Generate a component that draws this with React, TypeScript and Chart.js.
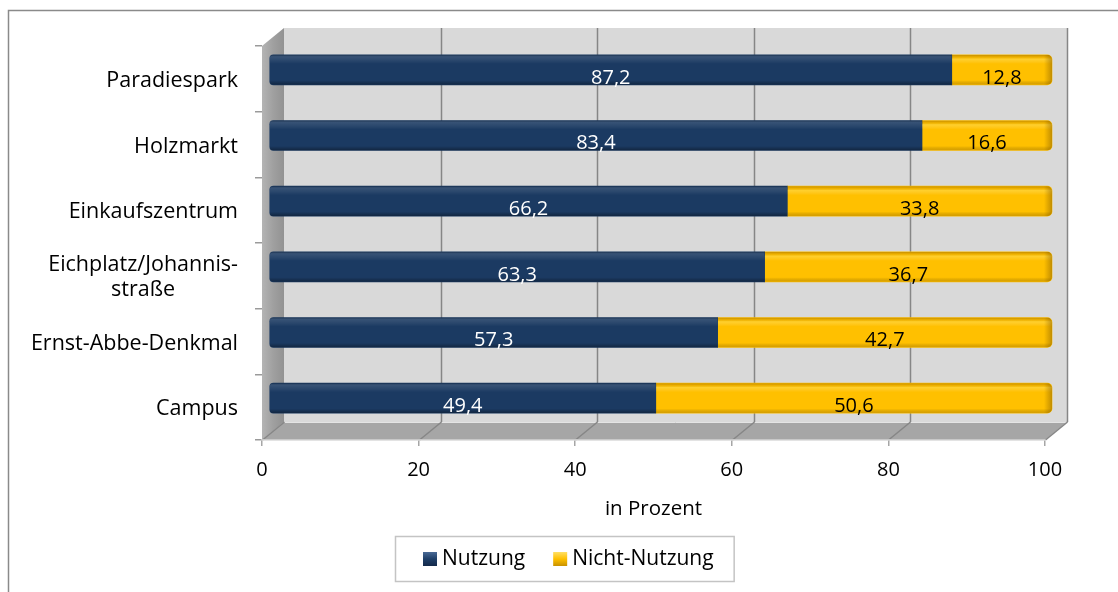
import { useEffect, useRef } from "react";
import { Chart, registerables } from "chart.js";

Chart.register(...registerables);

const categories: (string | string[])[] = [
  "Paradiespark",
  "Holzmarkt",
  "Einkaufszentrum",
  ["Eichplatz/Johannis-", "straße"],
  "Ernst-Abbe-Denkmal",
  "Campus",
];
const nutzung = [87.2, 83.4, 66.2, 63.3, 57.3, 49.4];
const nichtNutzung = [12.8, 16.6, 33.8, 36.7, 42.7, 50.6];
const seriesNames = ["Nutzung", "Nicht-Nutzung"];
const xTickValues = [0, 20, 40, 60, 80, 100];
const axisTitle = "in Prozent";

const FONT = "'Open Sans', 'Noto Sans', sans-serif";
const BLUE = "#1b3a62";
const YELLOW = "#ffc000";
const DEPTH_X = 22;
const DEPTH_Y = -18;
const BAR_DX = 7;
const BAR_DY = -9;

const fmt = (v: number) => v.toFixed(1).replace(".", ",");

const wallsPlugin = {
  id: "walls",
  beforeDraw(chart: any) {
    const { ctx, chartArea } = chart;
    const { left, right, top, bottom } = chartArea;
    const xs = chart.scales.x;
    ctx.save();
    // outer frame
    ctx.strokeStyle = "#8a8a8a";
    ctx.lineWidth = 1.5;
    ctx.beginPath();
    ctx.moveTo(8.5, 600);
    ctx.lineTo(8.5, 10.5);
    ctx.lineTo(1130, 10.5);
    ctx.stroke();

    // back wall
    ctx.fillStyle = "#d9d9d9";
    ctx.fillRect(left + DEPTH_X, top + DEPTH_Y, right - left, bottom - top);

    // side wall
    const sg = ctx.createLinearGradient(left, 0, left + DEPTH_X, 0);
    sg.addColorStop(0, "#b4b4b4");
    sg.addColorStop(0.5, "#a0a0a0");
    sg.addColorStop(1, "#929292");
    ctx.fillStyle = sg;
    ctx.beginPath();
    ctx.moveTo(left, top);
    ctx.lineTo(left + DEPTH_X, top + DEPTH_Y);
    ctx.lineTo(left + DEPTH_X, bottom + DEPTH_Y);
    ctx.lineTo(left, bottom);
    ctx.closePath();
    ctx.fill();

    // floor
    ctx.fillStyle = "#a6a6a6";
    ctx.beginPath();
    ctx.moveTo(left, bottom);
    ctx.lineTo(right, bottom);
    ctx.lineTo(right + DEPTH_X, bottom + DEPTH_Y);
    ctx.lineTo(left + DEPTH_X, bottom + DEPTH_Y);
    ctx.closePath();
    ctx.fill();

    // wall / floor seam
    ctx.strokeStyle = "#e4e4e4";
    ctx.lineWidth = 1;
    ctx.beginPath();
    ctx.moveTo(left + DEPTH_X, bottom + DEPTH_Y + 0.5);
    ctx.lineTo(right + DEPTH_X, bottom + DEPTH_Y + 0.5);
    ctx.stroke();

    // gridlines on back wall and floor
    ctx.strokeStyle = "#868686";
    ctx.lineWidth = 1.5;
    xTickValues.forEach((v) => {
      const px = Math.round(xs.getPixelForValue(v)) + 0.5;
      if (v !== 0) {
        ctx.beginPath();
        ctx.moveTo(px + DEPTH_X, top + DEPTH_Y);
        ctx.lineTo(px + DEPTH_X, bottom + DEPTH_Y);
        ctx.stroke();
      }
      ctx.beginPath();
      ctx.moveTo(px, bottom);
      ctx.lineTo(px + DEPTH_X, bottom + DEPTH_Y);
      ctx.stroke();
    });
    ctx.restore();
  },
  beforeDatasetsDraw(chart: any) {
    chart.ctx.save();
    chart.ctx.translate(BAR_DX, BAR_DY);
  },
  afterDatasetsDraw(chart: any) {
    const ctx = chart.ctx;
    chart.data.datasets.forEach((_ds: any, di: number) => {
      const meta = chart.getDatasetMeta(di);
      meta.data.forEach((el: any) => {
        const l = Math.min(el.x, el.base);
        const r = Math.max(el.x, el.base);
        const t = el.y - el.height / 2;
        const b = el.y + el.height / 2;
        const radii = di === 0 ? [4, 0, 0, 4] : [0, 5, 5, 0];
        ctx.save();
        ctx.beginPath();
        (ctx as any).roundRect(l, t, r - l, b - t, radii);
        ctx.clip();
        const g = ctx.createLinearGradient(0, t, 0, b);
        if (di === 0) {
          g.addColorStop(0, "rgba(0,0,0,0.25)");
          g.addColorStop(0.07, "rgba(255,255,255,0.12)");
          g.addColorStop(0.2, "rgba(255,255,255,0.06)");
          g.addColorStop(0.3, "rgba(255,255,255,0)");
          g.addColorStop(0.85, "rgba(0,0,0,0)");
          g.addColorStop(1, "rgba(0,0,0,0.35)");
        } else {
          g.addColorStop(0, "rgba(150,100,0,0.55)");
          g.addColorStop(0.08, "rgba(150,100,0,0.15)");
          g.addColorStop(0.14, "rgba(255,255,180,0.25)");
          g.addColorStop(0.3, "rgba(255,255,255,0)");
          g.addColorStop(0.85, "rgba(0,0,0,0)");
          g.addColorStop(1, "rgba(120,80,0,0.3)");
        }
        ctx.fillStyle = g;
        ctx.fillRect(l, t, r - l, b - t);
        if (di === 1) {
          const hg = ctx.createLinearGradient(r - 8, 0, r, 0);
          hg.addColorStop(0, "rgba(120,80,0,0)");
          hg.addColorStop(1, "rgba(120,80,0,0.45)");
          ctx.fillStyle = hg;
          ctx.fillRect(r - 8, t, 8, b - t);
        }
        ctx.restore();
      });
    });
    ctx.restore();
  },
  afterDraw(chart: any) {
    const { ctx } = chart;
    const ys = chart.scales.y;
    ctx.save();
    // data labels
    ctx.font = `20px ${FONT}`;
    ctx.textAlign = "center";
    ctx.textBaseline = "middle";
    chart.data.datasets.forEach((ds: any, di: number) => {
      const meta = chart.getDatasetMeta(di);
      meta.data.forEach((el: any, i: number) => {
        const cx = (el.x + el.base) / 2 + BAR_DX;
        ctx.fillStyle = di === 0 ? "#ffffff" : "#000000";
        ctx.fillText(fmt(ds.data[i]), cx, el.y - 1);
      });
    });

    // category labels
    ctx.fillStyle = "#000000";
    ctx.font = `21.5px ${FONT}`;
    const rightEdge = 238;
    const lh = 25;
    categories.forEach((c, i) => {
      const lines = Array.isArray(c) ? c : [c];
      const cy = ys.getPixelForValue(i) + 2;
      const w = Math.max(...lines.map((s) => ctx.measureText(s).width));
      const centerX = rightEdge - w / 2;
      lines.forEach((s, k) => {
        const y = cy + (k - (lines.length - 1) / 2) * lh;
        ctx.textAlign = "center";
        ctx.fillText(s, centerX, y);
      });
    });

    // legend
    ctx.font = `21px ${FONT}`;
    ctx.textAlign = "left";
    const boxL = 395;
    const boxT = 536;
    const boxH = 45;
    let x = boxL + 28;
    const cyL = boxT + boxH / 2 + 0.5;
    let textEnd = x;
    seriesNames.forEach((name, i) => {
      const g = ctx.createLinearGradient(0, cyL - 7, 0, cyL + 7);
      if (i === 0) {
        g.addColorStop(0, "#4a6a96");
        g.addColorStop(0.5, "#1f3f68");
        g.addColorStop(1, "#13294a");
      } else {
        g.addColorStop(0, "#ffe066");
        g.addColorStop(0.5, "#ffc000");
        g.addColorStop(1, "#c89200");
      }
      ctx.fillStyle = g;
      ctx.fillRect(x, cyL - 7, 14, 14);
      ctx.fillStyle = "#000000";
      ctx.fillText(name, x + 19, cyL);
      textEnd = x + 19 + ctx.measureText(name).width;
      x = textEnd + 28;
    });
    ctx.strokeStyle = "#c4c4c4";
    ctx.lineWidth = 1.5;
    ctx.strokeRect(boxL + 0.5, boxT + 0.5, textEnd + 20 - boxL, boxH);
    ctx.restore();
  },
};

export default function App() {
  const ref = useRef<HTMLCanvasElement | null>(null);
  useEffect(() => {
    document.body.style.margin = "0";
    const canvas = ref.current!;
    const chart = new Chart(canvas, {
      type: "bar",
      data: {
        labels: categories as any,
        datasets: [
          {
            label: seriesNames[0],
            data: nutzung,
            backgroundColor: BLUE,
            borderRadius: { topLeft: 4, bottomLeft: 4, topRight: 0, bottomRight: 0 },
            borderSkipped: false,
            barThickness: 30,
            clip: false as any,
          },
          {
            label: seriesNames[1],
            data: nichtNutzung,
            backgroundColor: YELLOW,
            borderRadius: { topLeft: 0, bottomLeft: 0, topRight: 5, bottomRight: 5 },
            borderSkipped: false,
            barThickness: 30,
            clip: false as any,
          },
        ],
      },
      options: {
        indexAxis: "y",
        responsive: false,
        animation: false,
        layout: { padding: { left: 0, top: 46, right: 73, bottom: 70 } },
        plugins: {
          legend: { display: false },
          tooltip: { enabled: false },
        },
        scales: {
          x: {
            stacked: true,
            min: 0,
            max: 100,
            afterBuildTicks: (s: any) => {
              s.ticks = xTickValues.map((v) => ({ value: v }));
            },
            ticks: {
              color: "#000000",
              font: { family: FONT, size: 20 },
              padding: 12,
              maxRotation: 0,
            },
            grid: {
              drawOnChartArea: false,
              drawTicks: true,
              tickLength: 6,
              color: "#a6a6a6",
              lineWidth: 1.5,
            },
            border: { display: true, color: "#c8c8c8", width: 1.5 },
            title: {
              display: true,
              text: axisTitle,
              color: "#000000",
              font: { family: FONT, size: 20.5 },
              padding: { top: 4, bottom: 1 },
            },
            afterFit: (s: any) => {
              s.height = 82;
            },
          },
          y: {
            stacked: true,
            ticks: { display: false },
            grid: {
              drawOnChartArea: false,
              drawTicks: true,
              tickLength: 7,
              color: "#9a9a9a",
              lineWidth: 1.5,
              offset: true,
            },
            border: { display: false },
            afterFit: (s: any) => {
              s.width = 262;
            },
          },
        },
      },
      plugins: [wallsPlugin],
    });
    return () => chart.destroy();
  }, []);
  return <canvas ref={ref} width={1118} height={592} style={{ display: "block" }} />;
}
